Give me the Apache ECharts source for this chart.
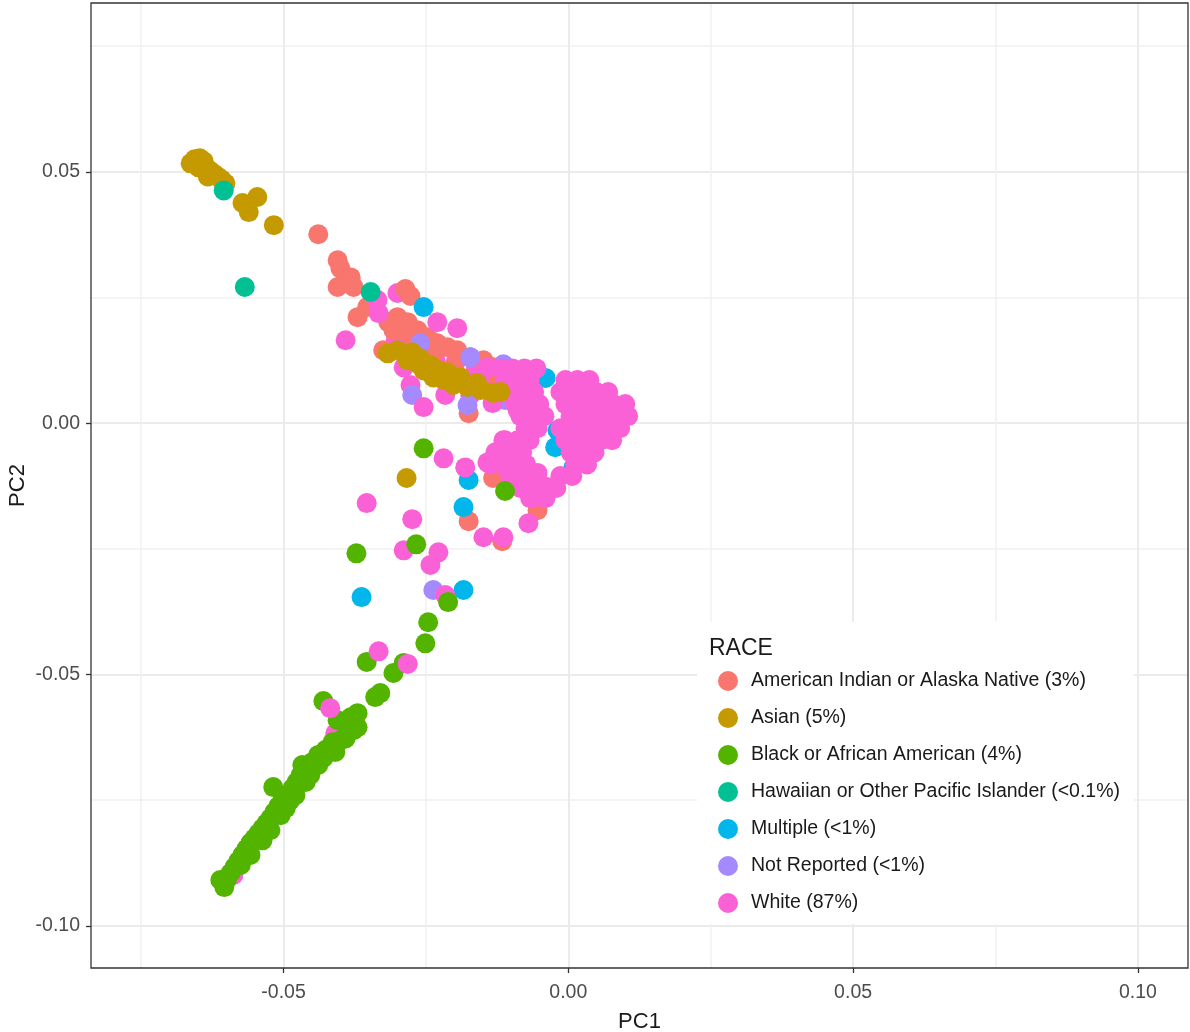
<!DOCTYPE html>
<html>
<head>
<meta charset="utf-8">
<script src="https://cdn.jsdelivr.net/npm/echarts@6/dist/echarts.min.js"></script>
<style>
html,body{margin:0;padding:0;background:#fff;}
#chart{width:1190px;height:1032px;}
</style>
</head>
<body>
<div id="chart"></div>
<script>
// ---- tick values ----
const majorTicksX = [-0.05, 0.00, 0.05, 0.10];
const minorTicksX = [-0.075, -0.025, 0.025, 0.075];
const majorTicksY = [-0.10, -0.05, 0.00, 0.05];
const minorTicksY = [-0.075, -0.025, 0.025, 0.075];

// ---- legend categories ----
const categories = [
  'American Indian or Alaska Native (3%)',
  'Asian (5%)',
  'Black or African American (4%)',
  'Hawaiian or Other Pacific Islander (<0.1%)',
  'Multiple (<1%)',
  'Not Reported (<1%)',
  'White (87%)'
];

// ---- series values [PC1, PC2] ----
const amIndian = [[-0.0439,0.0376],[-0.0405,0.0324],[-0.0400,0.0308],[-0.0382,0.0290],[-0.0405,0.0271],[-0.0377,0.0271],[-0.0286,0.0267],[-0.0277,0.0253],[-0.0370,0.0211],[-0.0353,0.0231],[-0.0300,0.0211],[-0.0282,0.0201],[-0.0265,0.0185],[-0.0247,0.0171],[-0.0230,0.0159],[-0.0212,0.0151],[-0.0195,0.0145],[-0.0172,0.0131],[-0.0149,0.0125],[-0.0325,0.0145],[-0.0307,0.0185],[-0.0272,0.0159],[-0.0237,0.0139],[-0.0202,0.0111],[-0.0289,0.0185],[-0.0254,0.0151],[-0.0316,0.0201],[-0.0175,0.0020],[-0.0132,-0.0109],[-0.0054,-0.0173],[-0.0116,-0.0235],[-0.0175,-0.0195],[-0.0123,0.0082],[-0.0102,-0.0070],[-0.0137,0.0113],[-0.0075,0.0105]];

const asian = [[-0.0663,0.0517],[-0.0656,0.0525],[-0.0647,0.0527],[-0.0640,0.0521],[-0.0649,0.0509],[-0.0638,0.0507],[-0.0630,0.0503],[-0.0623,0.0497],[-0.0616,0.0491],[-0.0609,0.0485],[-0.0602,0.0477],[-0.0633,0.0491],[-0.0572,0.0438],[-0.0546,0.0450],[-0.0561,0.0420],[-0.0517,0.0394],[-0.0284,-0.0109],[-0.0317,0.0139],[-0.0300,0.0145],[-0.0282,0.0125],[-0.0265,0.0119],[-0.0260,0.0129],[-0.0254,0.0105],[-0.0237,0.0091],[-0.0225,0.0105],[-0.0219,0.0086],[-0.0202,0.0076],[-0.0189,0.0091],[-0.0177,0.0072],[-0.0160,0.0080],[-0.0154,0.0066],[-0.0132,0.0060],[-0.0242,0.0115],[-0.0212,0.0101],[-0.0274,0.0141],[-0.0198,0.0090],[-0.0119,0.0062]];

const black = [[-0.0254,-0.0050],[-0.0111,-0.0135],[-0.0372,-0.0259],[-0.0267,-0.0241],[-0.0211,-0.0356],[-0.0246,-0.0396],[-0.0251,-0.0438],[-0.0354,-0.0475],[-0.0307,-0.0497],[-0.0289,-0.0477],[-0.0339,-0.0545],[-0.0330,-0.0537],[-0.0430,-0.0553],[-0.0405,-0.0591],[-0.0382,-0.0585],[-0.0370,-0.0605],[-0.0388,-0.0617],[-0.0400,-0.0631],[-0.0370,-0.0577],[-0.0377,-0.0611],[-0.0414,-0.0635],[-0.0426,-0.0650],[-0.0439,-0.0660],[-0.0449,-0.0674],[-0.0460,-0.0686],[-0.0470,-0.0700],[-0.0477,-0.0714],[-0.0484,-0.0726],[-0.0493,-0.0740],[-0.0502,-0.0750],[-0.0509,-0.0762],[-0.0516,-0.0774],[-0.0523,-0.0786],[-0.0530,-0.0796],[-0.0537,-0.0806],[-0.0544,-0.0816],[-0.0551,-0.0826],[-0.0558,-0.0835],[-0.0565,-0.0847],[-0.0572,-0.0859],[-0.0579,-0.0871],[-0.0586,-0.0883],[-0.0593,-0.0895],[-0.0600,-0.0909],[-0.0604,-0.0923],[-0.0518,-0.0724],[-0.0461,-0.0714],[-0.0453,-0.0700],[-0.0439,-0.0680],[-0.0430,-0.0666],[-0.0488,-0.0750],[-0.0496,-0.0766],[-0.0505,-0.0780],[-0.0479,-0.0740],[-0.0537,-0.0830],[-0.0558,-0.0859],[-0.0575,-0.0879],[-0.0523,-0.0810],[-0.0391,-0.0627],[-0.0409,-0.0654],[-0.0467,-0.0680],[-0.0611,-0.0909]];

const hawaiian = [[-0.0605,0.0463],[-0.0568,0.0271],[-0.0347,0.0261]];

const multiple = [[-0.0254,0.0231],[-0.0040,0.0090],[-0.0175,-0.0113],[-0.0184,-0.0167],[-0.0363,-0.0346],[-0.0184,-0.0332],[0.0009,-0.0088],[-0.0019,-0.0014],[-0.0023,-0.0048]];

const notReported = [[-0.0274,0.0056],[-0.0177,0.0036],[-0.0172,0.0131],[-0.0114,0.0117],[-0.0111,0.0046],[-0.0237,-0.0332],[-0.0260,0.0159]];

// White: drawn in three layers (under others / main / over others)
const whiteUnder = [[-0.0303,0.0165],[-0.0268,0.0145],[-0.0233,0.0125],[-0.0198,0.0121],[-0.0163,0.0105],[-0.0146,0.0090],[-0.0172,0.0056],[-0.0216,0.0056],[-0.0277,0.0076],[-0.0300,0.0259],[-0.0409,-0.0617],[-0.0588,-0.0899]];

const whiteMain = [[-0.0391,0.0165],[-0.0195,0.0189],[-0.0230,0.0201],[-0.0335,0.0245],[-0.0333,0.0219],[-0.0254,0.0032],[-0.0219,-0.0070],[-0.0354,-0.0159],[-0.0274,-0.0191],[-0.0289,-0.0253],[-0.0228,-0.0257],[-0.0242,-0.0282],[-0.0181,-0.0088],[-0.0149,-0.0227],[-0.0114,-0.0227],[-0.0070,-0.0199],[-0.0142,-0.0078],[-0.0114,-0.0034],[-0.0054,-0.0099],[-0.0061,-0.0147],[-0.0037,-0.0127],[-0.0216,-0.0342],[-0.0289,0.0111],[-0.0133,0.0040],[-0.0089,0.0026],[-0.0142,0.0111],[-0.0107,0.0105],
[-0.0119,0.0109],[-0.0098,0.0109],[-0.0077,0.0109],[-0.0056,0.0109],
[-0.0111,0.0086],[-0.0089,0.0086],[-0.0068,0.0086],[-0.0005,0.0086],[0.0016,0.0086],[0.0037,0.0086],
[-0.0102,0.0062],[-0.0081,0.0062],[-0.0060,0.0062],[-0.0014,0.0062],[0.0007,0.0062],[0.0028,0.0062],[0.0049,0.0062],[0.0070,0.0062],
[-0.0093,0.0038],[-0.0072,0.0038],[-0.0051,0.0038],[-0.0005,0.0038],[0.0016,0.0038],[0.0037,0.0038],[0.0058,0.0038],[0.0079,0.0038],[0.0100,0.0038],
[-0.0084,0.0014],[-0.0063,0.0014],[-0.0042,0.0014],[0.0004,0.0014],[0.0025,0.0014],[0.0046,0.0014],[0.0067,0.0014],[0.0088,0.0014],[0.0105,0.0014],
[-0.0075,-0.0010],[-0.0054,-0.0010],[-0.0014,-0.0010],[0.0007,-0.0010],[0.0028,-0.0010],[0.0049,-0.0010],[0.0070,-0.0010],[0.0091,-0.0010],
[-0.0111,-0.0034],[-0.0089,-0.0034],[-0.0068,-0.0034],[-0.0005,-0.0034],[0.0016,-0.0034],[0.0037,-0.0034],[0.0058,-0.0034],[0.0077,-0.0034],
[-0.0128,-0.0058],[-0.0102,-0.0058],[-0.0081,-0.0058],[0.0004,-0.0058],[0.0025,-0.0058],[0.0046,-0.0058],
[-0.0137,-0.0082],[-0.0116,-0.0082],[-0.0095,-0.0082],[-0.0074,-0.0082],[0.0012,-0.0082],[0.0033,-0.0082],
[-0.0102,-0.0105],[-0.0081,-0.0105],[-0.0060,-0.0105],[-0.0014,-0.0105],[0.0007,-0.0105],
[-0.0084,-0.0129],[-0.0063,-0.0129],[-0.0042,-0.0129],[-0.0021,-0.0129],
[-0.0067,-0.0149],[-0.0040,-0.0149]];

const whiteOver = [[-0.0333,-0.0454],[-0.0282,-0.0479],[-0.0418,-0.0567]];

const colors = {
  amIndian: '#F8766D', asian: '#C49A00', black: '#53B400', hawaiian: '#00C094',
  multiple: '#00B6EB', notReported: '#A58AFF', white: '#FB61D7'
};

const FONT = '"Liberation Sans", Arial, sans-serif';
const X_MIN = -0.0838, X_MAX = 0.1088, Y_MIN = -0.1084, Y_MAX = 0.0836;

function sc(name, data, color) {
  return {
    type: 'scatter', name: name, data: data, symbol: 'circle', symbolSize: 20,
    xAxisIndex: 0, yAxisIndex: 0,
    itemStyle: { color: color, opacity: 1 },
    emphasis: { disabled: true }
  };
}

const chart = echarts.init(document.getElementById('chart'), null, { renderer: 'canvas' });
const fmt = v => v.toFixed(2);

chart.setOption({
  animation: false,
  backgroundColor: '#ffffff',
  textStyle: { fontFamily: FONT },
  grid: { left: 91, right: 2, top: 3, bottom: 64, show: true, borderColor: '#333333', borderWidth: 1.3, backgroundColor: 'transparent', z: 3, containLabel: false, outerBoundsMode: 'none' },
  title: {
    text: 'RACE', left: 704, top: 632, z: 10,
    textStyle: { fontFamily: FONT, fontSize: 23, fontWeight: 'normal', color: '#1a1a1a' }
  },
  legend: {
    data: categories, orient: 'vertical', left: 697, top: 622, z: 8,
    padding: [49, 14, 11, 21],
    backgroundColor: '#ffffff',
    icon: 'circle', itemWidth: 32, itemHeight: 20, itemGap: 17,
    selectedMode: false,
    textStyle: { fontFamily: FONT, fontSize: 19.5, color: '#1a1a1a', padding: [0, 0, 0, 2] }
  },
  xAxis: [
    {
      type: 'value', min: X_MIN, max: X_MAX, position: 'bottom',
      name: 'PC1', nameLocation: 'middle', nameGap: 43, nameMoveOverlap: false,
      nameTextStyle: { fontFamily: FONT, fontSize: 22, color: '#1a1a1a' },
      axisLine: { show: false, onZero: false },
      axisTick: { show: true, customValues: majorTicksX, length: 5, lineStyle: { color: '#333333', width: 1.3 } },
      axisLabel: { customValues: majorTicksX, formatter: fmt, margin: 15, fontSize: 19.5, color: '#4D4D4D', fontFamily: FONT },
      splitLine: { show: true, lineStyle: { color: '#EBEBEB', width: 2 } }
    },
    {
      type: 'value', min: X_MIN, max: X_MAX, position: 'bottom',
      axisLine: { show: false, onZero: false },
      axisTick: { show: false, customValues: minorTicksX },
      axisLabel: { show: false, customValues: minorTicksX },
      splitLine: { show: true, lineStyle: { color: '#F0F0F0', width: 1.5 } }
    }
  ],
  yAxis: [
    {
      type: 'value', min: Y_MIN, max: Y_MAX, position: 'left',
      name: 'PC2', nameLocation: 'middle', nameGap: 62, nameRotate: 90, nameMoveOverlap: false,
      nameTextStyle: { fontFamily: FONT, fontSize: 22, color: '#1a1a1a' },
      axisLine: { show: false, onZero: false },
      axisTick: { show: true, customValues: majorTicksY, length: 5, lineStyle: { color: '#333333', width: 1.3 } },
      axisLabel: { customValues: majorTicksY, formatter: fmt, margin: 11, fontSize: 19.5, color: '#4D4D4D', fontFamily: FONT },
      splitLine: { show: true, lineStyle: { color: '#EBEBEB', width: 2 } }
    },
    {
      type: 'value', min: Y_MIN, max: Y_MAX, position: 'left',
      axisLine: { show: false, onZero: false },
      axisTick: { show: false, customValues: minorTicksY },
      axisLabel: { show: false, customValues: minorTicksY },
      splitLine: { show: true, lineStyle: { color: '#F0F0F0', width: 1.5 } }
    }
  ],
  series: [
    sc(categories[6], whiteUnder, colors.white),
    sc(categories[0], amIndian, colors.amIndian),
    sc(categories[4], multiple, colors.multiple),
    sc(categories[5], notReported, colors.notReported),
    sc(categories[6], whiteMain, colors.white),
    sc(categories[1], asian, colors.asian),
    sc(categories[3], hawaiian, colors.hawaiian),
    sc(categories[2], black, colors.black),
    sc(categories[6], whiteOver, colors.white)
  ]
});
</script>
</body>
</html>
